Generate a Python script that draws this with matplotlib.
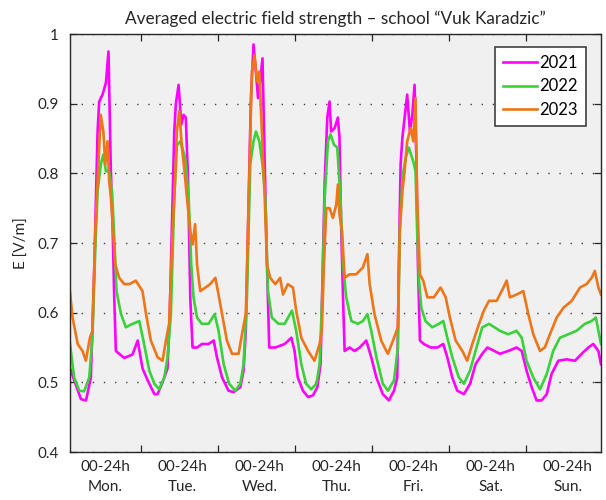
import numpy as np
import matplotlib
matplotlib.use("Agg")
from matplotlib import pyplot as plt
from matplotlib.ticker import FixedLocator, FormatStrFormatter

plt.rcParams['font.family'] = ['Lato', 'DejaVu Sans']

# hours from Monday 00:00
t_2021 = [1.9, 5.3, 6.9, 8.4, 9.5, 10.5, 11.0, 12.05, 13.1, 13.9, 14.6, 15.2, 15.7, 16.2, 18.8, 21.4, 23.0,
          24.5, 26.1, 28.2, 29.2, 30.75, 32.3, 33.0, 34.4, 34.9, 35.75, 36.6, 37.3, 38.0, 38.7, 39.4, 40.1,
          41.5, 43.0, 45.1, 46.7, 47.7, 49.3, 51.3, 52.9, 55.0, 56.0, 56.7, 57.6, 58.3, 59.1, 59.85, 60.5,
          61.2, 61.9, 62.6, 63.3, 64.0, 65.9, 68.8, 70.9, 71.9, 72.9, 74.5, 76.1, 77.6, 79.0, 80.0, 80.7,
          81.3, 82.1, 82.8, 83.3, 84.4, 85.4, 85.9, 86.45, 87.0, 87.5, 89.05, 90.6, 92.2, 94.25, 95.8, 97.4,
          99.4, 101.3, 102.9, 103.9, 104.4, 104.95, 105.5, 106.2, 107.0, 107.85, 108.6, 109.3, 109.9, 110.35,
          110.97, 112.2, 114.3, 116.4, 118.25, 119.5, 121.05, 122.6, 124.7, 126.6, 128.3, 130.4, 132.0,
          135.9, 138.5, 141.1, 142.7, 144.2, 145.8, 147.35, 148.9, 150.5, 152.0, 154.1, 156.7, 159.3, 161.4,
          163.45, 165.0, 166.6, 167.4]
e_2021 = [0.52, 0.476, 0.474, 0.507, 0.67, 0.86, 0.903, 0.913, 0.93, 0.975, 0.81, 0.72, 0.62, 0.545, 0.535, 0.54, 0.56,
          0.52, 0.503, 0.483, 0.483, 0.50, 0.52, 0.60, 0.86, 0.90, 0.927, 0.87, 0.884, 0.88, 0.79, 0.62, 0.55,
          0.55, 0.555, 0.555, 0.56, 0.536, 0.507, 0.488, 0.486, 0.493, 0.517, 0.574, 0.765, 0.908, 0.985, 0.946, 0.908,
          0.932, 0.965, 0.813, 0.669, 0.55, 0.55, 0.555, 0.564, 0.545, 0.507, 0.488, 0.479, 0.481, 0.493, 0.526, 0.669,
          0.789, 0.88, 0.903, 0.86, 0.865, 0.88, 0.851, 0.717, 0.622, 0.545, 0.55, 0.545, 0.55, 0.56, 0.536, 0.507,
          0.483, 0.474, 0.488, 0.507, 0.669, 0.813, 0.851, 0.88, 0.913, 0.86, 0.884, 0.927, 0.813, 0.669,
          0.56, 0.555, 0.55, 0.55, 0.555, 0.536, 0.507, 0.488, 0.483, 0.498, 0.526, 0.541, 0.55,
          0.541, 0.545, 0.55, 0.545, 0.517, 0.493, 0.474, 0.474, 0.483, 0.512, 0.531, 0.533, 0.531, 0.541,
          0.55, 0.555, 0.545, 0.526]

t_2022 = [1.9, 3.2, 4.8, 6.3, 7.9, 8.9, 9.8, 10.5, 11.5, 12.3, 13.1, 14.1, 15.0, 15.7, 16.4, 17.8, 19.3, 21.4,
          23.5, 25.0, 26.6, 28.2, 29.7, 31.3, 32.3, 33.35, 34.4, 35.2, 36.3, 37.8, 38.9, 39.7, 40.4, 41.5, 43.0,
          45.1, 47.0, 48.2, 49.8, 51.5, 53.4, 55.0, 56.0, 57.05, 58.1, 59.1, 59.85, 60.9, 61.9, 62.8, 63.6, 64.8,
          66.9, 68.8, 71.1, 72.4, 74.0, 75.5, 77.1, 78.7, 79.7, 80.5, 81.3, 82.3, 83.1, 84.2, 85.2, 86.2, 87.0,
          88.0, 89.6, 91.65, 93.2, 94.6, 95.8, 97.4, 99.4, 101.0, 102.9, 104.1, 104.7, 105.5, 106.5, 107.5, 108.9,
          109.6, 110.1, 110.7, 111.4, 112.7, 114.8, 116.9, 118.25, 119.5, 121.05, 123.1, 124.7, 126.6, 128.3,
          130.4, 132.5, 135.9, 138.5, 141.1, 142.7, 144.2, 146.3, 148.4, 150.5, 152.5, 154.6, 157.2, 159.8,
          162.4, 164.5, 165.8, 166.6, 167.4]
e_2022 = [0.555, 0.507, 0.488, 0.487, 0.507, 0.564, 0.693, 0.774, 0.813, 0.827, 0.803, 0.803, 0.774, 0.708, 0.631, 0.598, 0.579, 0.584,
          0.588, 0.555, 0.517, 0.498, 0.49, 0.507, 0.536, 0.598, 0.765, 0.84, 0.846, 0.822, 0.765, 0.669, 0.622, 0.593, 0.584,
          0.584, 0.598, 0.574, 0.526, 0.498, 0.488, 0.498, 0.526, 0.622, 0.813, 0.846, 0.86, 0.846, 0.813, 0.765, 0.631, 0.593,
          0.584, 0.584, 0.603, 0.574, 0.526, 0.498, 0.49, 0.498, 0.526, 0.622, 0.765, 0.846, 0.856, 0.841, 0.837, 0.765, 0.669,
          0.622, 0.588, 0.584, 0.588, 0.598, 0.574, 0.536, 0.498, 0.488, 0.503, 0.55, 0.717, 0.794, 0.822, 0.837, 0.817,
          0.803, 0.717, 0.646, 0.607, 0.588, 0.579, 0.584, 0.588, 0.564, 0.536, 0.507, 0.498, 0.517, 0.545,
          0.579, 0.584, 0.574, 0.569, 0.574, 0.564, 0.531, 0.507, 0.49, 0.512, 0.545, 0.564, 0.569, 0.574,
          0.584, 0.588, 0.593, 0.574, 0.555]

t_2023 = [1.9, 2.7, 4.3, 5.8, 6.85, 8.1, 8.9, 9.8, 10.5, 11.5, 12.3, 12.9, 13.6, 14.1, 14.65, 15.2, 16.0, 17.25,
          18.8, 20.4, 22.4, 24.5, 25.6, 27.1, 29.2, 30.75, 31.8, 32.8, 33.9, 34.9, 35.2, 35.96, 36.8, 37.6, 38.35,
          39.4, 40.1, 40.9, 41.5, 42.5, 44.1, 45.6, 47.2, 48.2, 49.3, 50.8, 52.4, 54.45, 55.7, 56.7, 57.6, 58.6,
          59.4, 60.2, 60.9, 61.7, 62.6, 63.3, 64.3, 65.9, 67.4, 68.3, 69.8, 71.4, 72.4, 74.0, 76.1, 78.1, 79.7,
          80.4, 81.05, 81.8, 82.8, 83.85, 84.9, 85.4, 85.9, 86.7, 87.5, 89.05, 91.1, 93.2, 94.6, 95.3, 96.8, 98.9,
          100.5, 101.0, 102.9, 104.1, 104.7, 105.5, 106.2, 107.0, 108.1, 108.9, 109.6, 110.1, 110.97, 112.0,
          113.3, 115.3, 117.4, 119.0, 120.3, 122.1, 124.2, 125.7, 127.3, 129.4, 130.9, 132.5, 134.9, 137.0,
          138.0, 139.0, 141.1, 143.2, 144.75, 146.3, 148.4, 149.9, 151.5, 153.6, 155.7, 158.3, 160.85, 162.9,
          164.5, 165.5, 166.6, 167.4]
e_2023 = [0.63, 0.593, 0.555, 0.545, 0.531, 0.564, 0.574, 0.717, 0.789, 0.884, 0.86, 0.813, 0.846, 0.79, 0.765, 0.727, 0.669, 0.65,
          0.641, 0.641, 0.646, 0.631, 0.598, 0.56, 0.536, 0.531, 0.56, 0.584, 0.717, 0.813, 0.86, 0.889, 0.837, 0.803, 0.765,
          0.717, 0.698, 0.727, 0.669, 0.631, 0.636, 0.641, 0.65, 0.626, 0.598, 0.56, 0.541, 0.541, 0.574, 0.598, 0.765, 0.946,
          0.97, 0.932, 0.946, 0.86, 0.765, 0.669, 0.65, 0.641, 0.65, 0.626, 0.641, 0.636, 0.603, 0.564, 0.545, 0.531, 0.555,
          0.574, 0.669, 0.75, 0.75, 0.736, 0.755, 0.784, 0.741, 0.717, 0.65, 0.655, 0.655, 0.665, 0.684, 0.641, 0.598, 0.56,
          0.545, 0.541, 0.564, 0.579, 0.717, 0.774, 0.803, 0.846, 0.865, 0.846, 0.908, 0.765, 0.655, 0.646,
          0.622, 0.622, 0.636, 0.622, 0.593, 0.56, 0.545, 0.531, 0.555, 0.584, 0.603, 0.617, 0.617, 0.636,
          0.646, 0.622, 0.626, 0.631, 0.598, 0.569, 0.545, 0.55, 0.569, 0.593, 0.607, 0.617, 0.636, 0.641,
          0.65, 0.66, 0.636, 0.626]

years = ['2021', '2022', '2023']
colors = ['#ff00ff', '#3ad13a', '#ee7518']
day_names = ['Mon.', 'Tue.', 'Wed.', 'Thu.', 'Fri.', 'Sat.', 'Sun.']
y_ticks = [0.4, 0.5, 0.6, 0.7, 0.8, 0.9, 1.0]

fig = plt.figure(figsize=(6.06, 5.0), dpi=100)
ax = fig.add_axes([0.1155, 0.096, 0.8762, 0.836])
ax.set_facecolor('#f0f0f0')

for t, e, name, c in zip([t_2021, t_2022, t_2023], [e_2021, e_2022, e_2023], years, colors):
    ax.plot(t, e, color=c, lw=1.9, label=name)

ax.set_xlim(1.9, 167.4)
ax.set_ylim(0.4, 1.0)

# day boundaries get tick marks, day middles get the labels
ax.xaxis.set_major_locator(FixedLocator([24 * k for k in range(1, 7)]))
ax.xaxis.set_minor_locator(FixedLocator([13 + 24 * k for k in range(7)]))
ax.set_xticklabels([])
ax.set_xticklabels(['00-24h\n' + d for d in day_names], minor=True, linespacing=1.55)
ax.tick_params(axis='x', which='major', direction='in', length=5, top=True, bottom=True, width=0.9, color='#262626')
ax.tick_params(axis='x', which='minor', length=0, pad=6, labelsize=11, labelcolor='#262626')

ax.set_yticks(y_ticks)
ax.yaxis.set_major_formatter(FormatStrFormatter('%g'))
ax.tick_params(axis='y', direction='in', length=5, left=True, right=True, width=0.9, color='#262626',
               labelsize=11, labelcolor='#262626', pad=8)

ax.grid(axis='y', linestyle=(0, (1, 7)), color='#404040', lw=1.0)
ax.grid(axis='x', visible=False)

for s in ax.spines.values():
    s.set_color('#262626')
    s.set_linewidth(1.0)

ax.set_ylabel('E [V/m]', fontsize=11, color='#262626', labelpad=6)
ax.set_title('Averaged electric field strength \u2013 school \u201cVuk Karadzic\u201d', fontsize=12.4,
             color='#262626', pad=7)

leg = ax.legend(loc='upper right', bbox_to_anchor=(0.978, 0.978), fontsize=12, fancybox=False,
                framealpha=1, edgecolor='#404040', handlelength=2.05, handletextpad=0.1,
                borderpad=0.5, labelspacing=0.45, borderaxespad=0.2)
leg.get_frame().set_linewidth(1.2)

fig.savefig('out.png', dpi=100)
